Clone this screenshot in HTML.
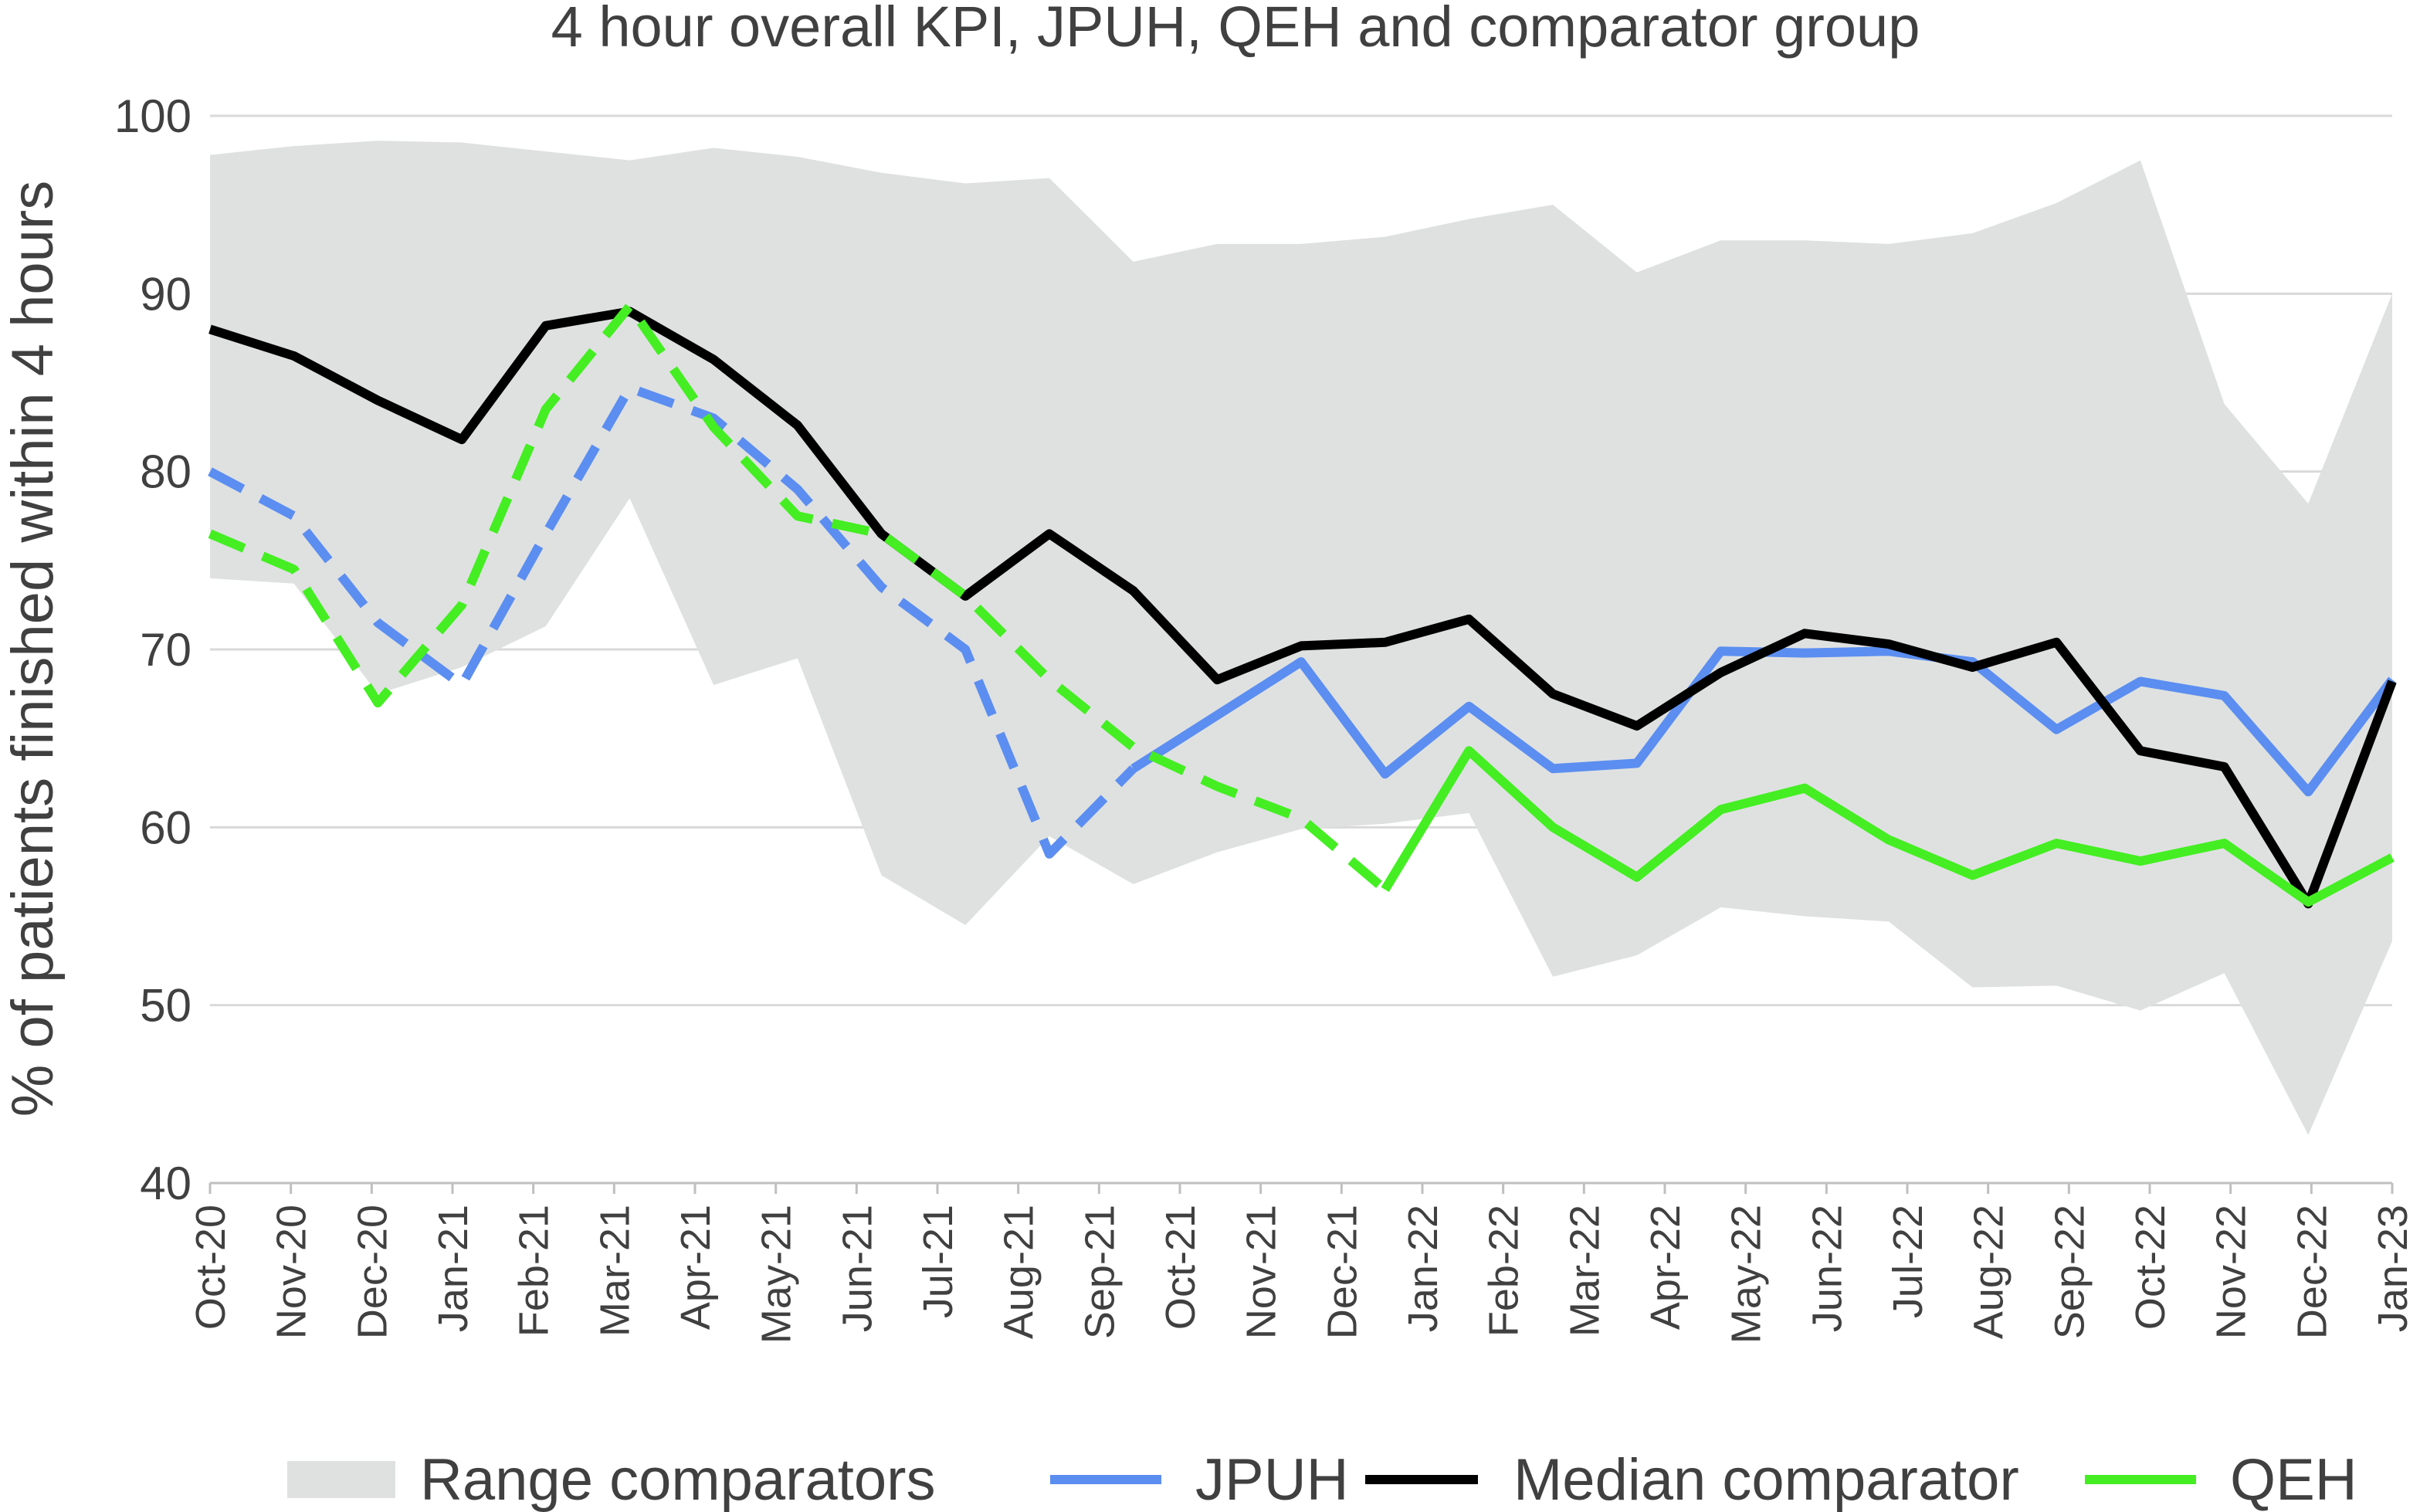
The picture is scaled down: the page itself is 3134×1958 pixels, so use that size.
<!DOCTYPE html>
<html><head><meta charset="utf-8"><style>
html,body{margin:0;padding:0;background:#fff;}
svg{display:block;font-family:"Liberation Sans",sans-serif;}
</style></head><body>
<svg id="chart" width="3134" height="1958" viewBox="0 0 3134 1958" xmlns="http://www.w3.org/2000/svg">
<text x="1600" y="60" font-size="74" fill="#404040" text-anchor="middle">4 hour overall KPI, JPUH, QEH and comparator group</text>
<text transform="translate(68,840) rotate(-90)" font-size="76" fill="#404040" text-anchor="middle">% of patients finished within 4 hours</text>
<g id="grid"></g><g id="area"></g><g id="lines"></g><g id="axes"></g>
<g>
<rect x="372" y="1892" width="140" height="48" fill="#dfe1e1"/>
<text x="544" y="1942" font-size="76" fill="#404040">Range comparators</text>
<line x1="1360" y1="1916" x2="1504" y2="1916" stroke="#5b8ef0" stroke-width="12"/>
<text x="1548" y="1942" font-size="76" fill="#404040">JPUH</text>
<line x1="1768" y1="1916" x2="1914" y2="1916" stroke="#000" stroke-width="12"/>
<text x="1960" y="1942" font-size="76" fill="#404040">Median comparator</text>
<line x1="2700" y1="1916" x2="2844" y2="1916" stroke="#44ee22" stroke-width="12"/>
<text x="2888" y="1942" font-size="76" fill="#404040">QEH</text>
</g>
</svg>
<script>
const months=["Oct-20","Nov-20","Dec-20","Jan-21","Feb-21","Mar-21","Apr-21","May-21","Jun-21","Jul-21","Aug-21","Sep-21","Oct-21","Nov-21","Dec-21","Jan-22","Feb-22","Mar-22","Apr-22","May-22","Jun-22","Jul-22","Aug-22","Sep-22","Oct-22","Nov-22","Dec-22","Jan-23"];
const yTicks=[40,50,60,70,80,90,100];
const median=[88,86.5,84,81.8,88.2,89,86.3,82.6,76.5,73,76.5,73.3,68.3,70.2,70.4,71.7,67.5,65.7,68.7,70.9,70.3,69,70.4,64.3,63.4,55.7,68.2];
const jpuh=[80,77.5,71.5,68,76.5,84.7,83,79,73.5,70,58.5,63.3,66.3,69.3,63,66.8,63.3,63.6,69.9,69.8,69.9,69.3,65.5,68.2,67.4,62,68.3];
const qeh=[76.5,74.5,67,72.5,83.5,89.3,82.5,77.5,76.5,73,68.3,64.5,62.3,60.5,56.5,64.3,60,57.2,61,62.2,59.3,57.3,59.1,58.1,59.1,55.8,58.3];
const rangeHigh=[97.8,98.3,98.6,98.5,98,97.5,98.2,97.7,96.8,96.2,96.5,91.8,92.8,92.8,93.2,94.2,95,91.2,93,93,92.8,93.4,95.1,97.5,83.8,78.2,90];
const rangeLow=[74,73.7,67.5,69,71.3,78.5,68,69.5,57.3,54.5,59.5,56.8,58.6,59.9,60.2,60.8,51.6,52.8,55.5,55,54.7,51,51.1,49.7,51.8,42.7,53.6];
const jpuhDashEnd=11, qehDashEnd=14;
const X0=272,X1=3098,Y0=1532,Y1=150;
const ns="http://www.w3.org/2000/svg";
function yS(v){return Y0-(v-40)/60*(Y0-Y1);}
function xM(i){return X0+i*(X1-X0)/(months.length-1);}
function xP(i){return X0+i*(X1-X0)/(median.length-1);}
function mk(tag,attrs,parent){const e=document.createElementNS(ns,tag);for(const k in attrs)e.setAttribute(k,attrs[k]);document.getElementById(parent).appendChild(e);return e;}
yTicks.forEach(v=>{
 const l=mk('line',{x1:X0,x2:X1,y1:yS(v),y2:yS(v),stroke:'#d9d9d9','stroke-width':3},'grid');
 
 
 const t=mk('text',{x:X0-24,y:yS(v)+21,'font-size':60,fill:'#404040','text-anchor':'end'},'axes');
 t.textContent=v;
 
 
});
let d='';
rangeHigh.forEach((v,i)=>{d+=(i?'L':'M')+xP(i)+','+yS(v);});
for(let i=rangeLow.length-1;i>=0;i--)d+='L'+xP(i)+','+yS(rangeLow[i]);
const ar=mk('path',{d:d+'Z',fill:'#dfe1e1'},'area');


function seg(arr,a,b){let s='';for(let i=a;i<=b;i++)s+=(i>a?'L':'M')+xP(i)+','+yS(arr[i]);return s;}
function series(arr,dashEnd,color,name){
 if(dashEnd>0){const p=mk('path',{d:seg(arr,0,dashEnd),fill:'none',stroke:color,'stroke-width':12,'stroke-dasharray':'48,26','stroke-linejoin':'round'},'lines');
 
 }
 const q=mk('path',{d:seg(arr,Math.max(dashEnd,0),arr.length-1),fill:'none',stroke:color,'stroke-width':12,'stroke-linejoin':'round'},'lines');
 
 
}
series(jpuh,jpuhDashEnd,'#5b8ef0','jpuh');
series(median,0,'#000000','median');
series(qeh,qehDashEnd,'#44ee22','qeh');
const ax=mk('line',{x1:X0,x2:X1,y1:Y0,y2:Y0,stroke:'#bfbfbf','stroke-width':3},'axes');


months.forEach((m,i)=>{
 const x=xM(i);
 const tk=mk('line',{x1:x,x2:x,y1:Y0,y2:Y0+14,stroke:'#bfbfbf','stroke-width':3},'axes');
 
 
 const t=mk('text',{transform:'translate('+(x+19)+','+(Y0+28)+') rotate(-90)','font-size':54,fill:'#404040','text-anchor':'end'},'axes');
 t.textContent=m;
 
 
});
</script>
</body></html>
